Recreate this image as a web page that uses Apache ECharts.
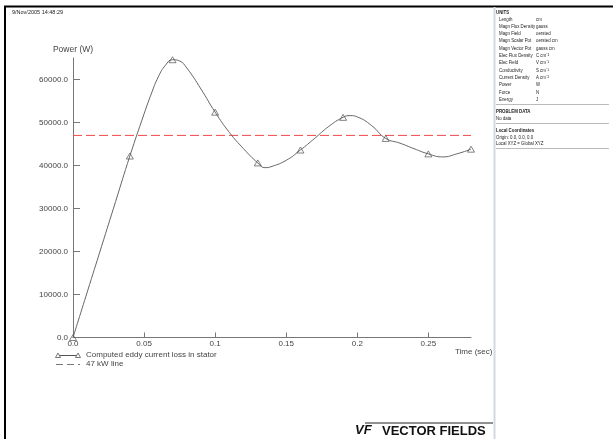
<!DOCTYPE html>
<html>
<head>
<meta charset="utf-8">
<script src="https://cdn.jsdelivr.net/npm/echarts@6/dist/echarts.min.js"></script>
<style>
  html, body { margin: 0; padding: 0; background: #fff; }
  #chart { width: 613px; height: 439px; }
</style>
</head>
<body>
<div id="chart"></div>
<script>
// Eddy current loss in the stator over time (W vs s)
const curveTime = [0, 0.01, 0.02, 0.03, 0.04, 0.05, 0.055, 0.06, 0.065, 0.07, 0.075, 0.08, 0.09,
  0.10, 0.11, 0.12, 0.13, 0.135, 0.14, 0.15, 0.16, 0.17, 0.18, 0.19, 0.195,
  0.20, 0.21, 0.22, 0.23, 0.24, 0.25, 0.26, 0.27, 0.28];
const curvePower = [0, 10550, 21100, 31650, 42200, 52000, 56600, 60600, 63300, 64600, 64300, 62700, 57800,
  52400, 47700, 43900, 40600, 39500, 39800, 41200, 43600, 46300, 49100, 51200, 51600,
  51300, 49300, 46300, 45200, 43900, 42700, 42000, 42700, 43800];

// Marked solution points
const markerTime = [0, 0.04, 0.07, 0.10, 0.13, 0.16, 0.19, 0.22, 0.25, 0.28];
const markerPower = [0, 42200, 64600, 52400, 40600, 43600, 51200, 46300, 42700, 43800];

// 47 kW reference level
const refLevel = 47000;
const refSpan = [0, 0.28];

const xTicks = [0, 0.05, 0.1, 0.15, 0.2, 0.25];
const xTickLabels = ['0.0', '0.05', '0.1', '0.15', '0.2', '0.25'];
const yTicks = [0, 10000, 20000, 30000, 40000, 50000, 60000];
const yTickLabels = ['0.0', '10000.0', '20000.0', '30000.0', '40000.0', '50000.0', '60000.0'];

const seriesNames = ['Computed eddy current loss in stator', '47 kW line'];
const timestamp = '9/Nov/2005 14:48:29';

const unitsRows = [
  ['Length', 'cm'],
  ['Magn Flux Density', 'gauss'],
  ['Magn Field', 'oersted'],
  ['Magn Scalar Pot', 'oersted cm'],
  ['Magn Vector Pot', 'gauss cm'],
  ['Elec Flux Density', 'C cm\u207B\u00B2'],
  ['Elec Field', 'V cm\u207B\u00B9'],
  ['Conductivity', 'S cm\u207B\u00B9'],
  ['Current Density', 'A cm\u207B\u00B2'],
  ['Power', 'W'],
  ['Force', 'N'],
  ['Energy', 'J']
];

const FONT = '"Liberation Sans", Arial, sans-serif';
const axisGray = '#777';
const labelColor = '#444';

const chart = echarts.init(document.getElementById('chart'), null, { renderer: 'canvas' });

// Small condensed panel text
function tinyText(x, y, text, bold) {
  return {
    type: 'text', x: x, y: y, scaleX: 0.78,
    style: { text: text, fontFamily: FONT, fontSize: 5.6, fontWeight: bold ? 'bold' : 'normal', fill: '#222' }
  };
}

const panel = [];
panel.push(tinyText(496, 9, 'UNITS', true));
unitsRows.forEach(function (r, i) {
  const y = 16 + i * 7.3;
  panel.push(tinyText(499, y, r[0]));
  panel.push(tinyText(536, y, r[1]));
});
panel.push({ type: 'line', shape: { x1: 496, y1: 104.5, x2: 609, y2: 104.5 }, style: { stroke: '#bbb', lineWidth: 1 } });
panel.push(tinyText(496, 108.5, 'PROBLEM DATA', true));
panel.push(tinyText(496, 115, 'No data'));
panel.push({ type: 'line', shape: { x1: 496, y1: 123.5, x2: 609, y2: 123.5 }, style: { stroke: '#bbb', lineWidth: 1 } });
panel.push(tinyText(496, 127.5, 'Local Coordinates', true));
panel.push(tinyText(496, 134, 'Origin: 0.0, 0.0, 0.0'));
panel.push(tinyText(496, 140, 'Local XYZ = Global XYZ'));
panel.push({ type: 'line', shape: { x1: 496, y1: 148.5, x2: 609, y2: 148.5 }, style: { stroke: '#bbb', lineWidth: 1 } });

// Legend drawn by hand: triangle-line-triangle and a dashed stroke
const legendItems = [
  { type: 'line', shape: { x1: 58, y1: 355.5, x2: 78, y2: 355.5 }, style: { stroke: '#555', lineWidth: 1 } },
  { type: 'polygon', shape: { points: [[58, 353], [55.5, 357.5], [60.5, 357.5]] }, style: { fill: '#fff', stroke: '#555', lineWidth: 0.8 } },
  { type: 'polygon', shape: { points: [[78, 353], [75.5, 357.5], [80.5, 357.5]] }, style: { fill: '#fff', stroke: '#555', lineWidth: 0.8 } },
  { type: 'text', left: 86, top: 351, style: { text: seriesNames[0], fontFamily: FONT, fontSize: 8, fill: labelColor } },
  { type: 'line', shape: { x1: 56, y1: 364.5, x2: 80, y2: 364.5 }, style: { stroke: '#777', lineWidth: 1, lineDash: [7, 4] } },
  { type: 'text', left: 86, top: 360, style: { text: seriesNames[1], fontFamily: FONT, fontSize: 8, fill: labelColor } }
];

const option = {
  backgroundColor: '#fff',
  animation: false,
  grid: { left: 73, right: 142, top: 58, bottom: 101.5, containLabel: false },
  xAxis: {
    type: 'value',
    min: 0,
    max: 0.28,
    axisLine: { show: true, onZero: false, lineStyle: { color: axisGray, width: 1 } },
    axisTick: { show: true, inside: true, length: 5, customValues: xTicks, lineStyle: { color: axisGray } },
    axisLabel: {
      customValues: xTicks,
      margin: 2,
      fontFamily: FONT, fontSize: 8, color: labelColor,
      formatter: function (v) { const i = xTicks.indexOf(v); return i >= 0 ? xTickLabels[i] : ''; }
    },
    splitLine: { show: false }
  },
  yAxis: {
    type: 'value',
    min: 0,
    max: 65000,
    name: 'Power (W)',
    nameLocation: 'end',
    nameGap: 4,
    nameTextStyle: { fontFamily: FONT, fontSize: 8.5, color: labelColor },
    axisLine: { show: true, onZero: false, lineStyle: { color: axisGray, width: 1 } },
    axisTick: { show: true, inside: true, length: 7, customValues: yTicks, lineStyle: { color: axisGray } },
    axisLabel: {
      customValues: yTicks,
      margin: 5,
      fontFamily: FONT, fontSize: 8, color: labelColor,
      formatter: function (v) { const i = yTicks.indexOf(v); return i >= 0 ? yTickLabels[i] : ''; }
    },
    splitLine: { show: false }
  },
  series: [
    {
      name: seriesNames[1],
      type: 'line',
      data: refSpan.map(function (t) { return [t, refLevel]; }),
      symbol: 'none',
      lineStyle: { color: '#f04848', width: 1, type: [9, 4] },
      z: 1
    },
    {
      name: seriesNames[0],
      type: 'line',
      data: curveTime.map(function (t, i) { return [t, curvePower[i]]; }),
      smooth: 0.5,
      symbol: 'none',
      lineStyle: { color: '#666', width: 1 },
      z: 2
    },
    {
      name: seriesNames[0] + ' points',
      type: 'scatter',
      data: markerTime.map(function (t, i) { return [t, markerPower[i]]; }),
      symbol: 'triangle',
      symbolSize: [7, 6],
      itemStyle: { color: 'rgba(255,255,255,0)', borderColor: '#555', borderWidth: 0.9 },
      z: 3
    }
  ],
  graphic: [
    // outer frame and side panel divider
    { type: 'line', shape: { x1: 4, y1: 6.5, x2: 613, y2: 6.5 }, style: { stroke: '#000', lineWidth: 2 } },
    { type: 'line', shape: { x1: 5, y1: 6, x2: 5, y2: 439 }, style: { stroke: '#000', lineWidth: 2 } },
    { type: 'line', shape: { x1: 494.5, y1: 7, x2: 494.5, y2: 439 }, style: { stroke: '#d4d8e0', lineWidth: 2 } },
    { type: 'text', left: 12, top: 9, style: { text: timestamp, fontFamily: FONT, fontSize: 5.5, fill: '#222' } },
    { type: 'text', left: 455, top: 348, style: { text: 'Time (sec)', fontFamily: FONT, fontSize: 8, fill: labelColor } },
    // company mark
    { type: 'line', shape: { x1: 365, y1: 423, x2: 493, y2: 423 }, style: { stroke: '#222', lineWidth: 1 } },
    { type: 'text', left: 355, top: 424, style: { text: 'VF', fontFamily: FONT, fontSize: 13, fontWeight: 'bold', fontStyle: 'italic', fill: '#111' } },
    { type: 'text', left: 382, top: 425, style: { text: 'VECTOR FIELDS', fontFamily: FONT, fontSize: 13, fontWeight: 'bold', fill: '#111' } }
  ].concat(panel).concat(legendItems)
};

chart.setOption(option);
</script>
</body>
</html>
